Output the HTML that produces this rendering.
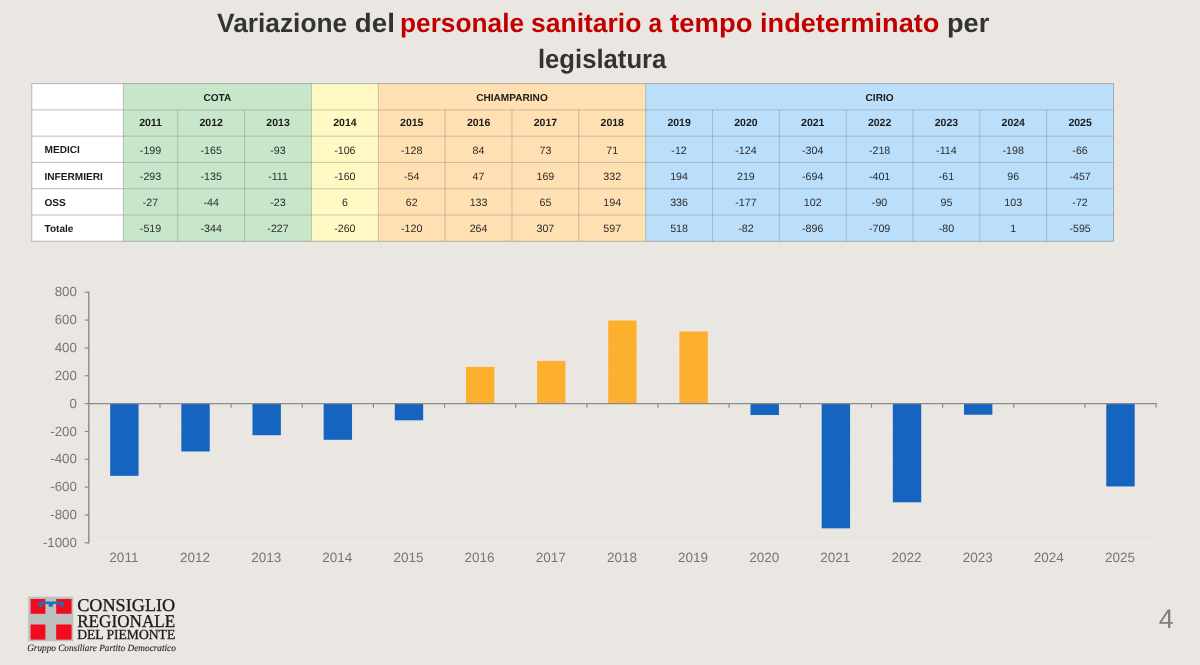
<!DOCTYPE html>
<html lang="it"><head><meta charset="utf-8"><title>Variazione del personale sanitario</title>
<style>html,body{margin:0;padding:0;background:#EAE7E3;}body{width:1200px;height:665px;overflow:hidden;font-family:"Liberation Sans",sans-serif;}svg{display:block;filter:blur(0.45px);}text{font-family:"Liberation Sans",sans-serif;text-rendering:geometricPrecision;}.serif{font-family:"Liberation Serif",serif;}</style></head><body>
<svg width="1200" height="665" viewBox="0 0 1200 665">
<rect x="0" y="0" width="1200" height="665" fill="#EAE7E3"/>
<g font-weight="bold" font-size="26.6" fill="#333333">
<text x="217.10" y="32.3" textLength="130.07" lengthAdjust="spacingAndGlyphs">Variazione</text>
<text x="354.81" y="32.3" textLength="40.09" lengthAdjust="spacingAndGlyphs">del</text>
<text x="400.03" y="32.3" textLength="124.04" lengthAdjust="spacingAndGlyphs" fill="#C00000">personale</text>
<text x="531.10" y="32.3" textLength="110.28" lengthAdjust="spacingAndGlyphs" fill="#C00000">sanitario</text>
<text x="648.60" y="32.3" textLength="13.60" lengthAdjust="spacingAndGlyphs" fill="#C00000">a</text>
<text x="670.13" y="32.3" textLength="82.28" lengthAdjust="spacingAndGlyphs" fill="#C00000">tempo</text>
<text x="760.09" y="32.3" textLength="179.24" lengthAdjust="spacingAndGlyphs" fill="#C00000">indeterminato</text>
<text x="947.06" y="32.3" textLength="42.24" lengthAdjust="spacingAndGlyphs">per</text>
<text x="537.90" y="68.3" textLength="128.50" lengthAdjust="spacingAndGlyphs">legislatura</text>
</g>
<rect x="31.80" y="83.60" width="91.50" height="157.68" fill="#FFFFFF"/>
<rect x="123.30" y="83.60" width="188.17" height="157.68" fill="#C8E6C9"/>
<rect x="311.47" y="83.60" width="66.84" height="157.68" fill="#FFF9C4"/>
<rect x="378.31" y="83.60" width="267.34" height="157.68" fill="#FFE0B2"/>
<rect x="645.65" y="83.60" width="467.85" height="157.68" fill="#BBDEFB"/>
<g stroke="rgba(120,120,120,0.38)" stroke-width="1" fill="none">
<line x1="123.30" y1="109.88" x2="1113.50" y2="109.88"/>
<line x1="123.30" y1="136.16" x2="1113.50" y2="136.16"/>
<line x1="123.30" y1="162.44" x2="1113.50" y2="162.44"/>
<line x1="123.30" y1="188.72" x2="1113.50" y2="188.72"/>
<line x1="123.30" y1="215.00" x2="1113.50" y2="215.00"/>
<line x1="123.30" y1="83.60" x2="123.30" y2="241.28"/>
<line x1="177.80" y1="109.88" x2="177.80" y2="241.28"/>
<line x1="244.64" y1="109.88" x2="244.64" y2="241.28"/>
<line x1="311.47" y1="83.60" x2="311.47" y2="241.28"/>
<line x1="378.31" y1="83.60" x2="378.31" y2="241.28"/>
<line x1="445.14" y1="109.88" x2="445.14" y2="241.28"/>
<line x1="511.98" y1="109.88" x2="511.98" y2="241.28"/>
<line x1="578.81" y1="109.88" x2="578.81" y2="241.28"/>
<line x1="645.65" y1="83.60" x2="645.65" y2="241.28"/>
<line x1="712.49" y1="109.88" x2="712.49" y2="241.28"/>
<line x1="779.32" y1="109.88" x2="779.32" y2="241.28"/>
<line x1="846.16" y1="109.88" x2="846.16" y2="241.28"/>
<line x1="912.99" y1="109.88" x2="912.99" y2="241.28"/>
<line x1="979.83" y1="109.88" x2="979.83" y2="241.28"/>
<line x1="1046.66" y1="109.88" x2="1046.66" y2="241.28"/>
</g>
<g stroke="rgba(120,120,120,0.5)" stroke-width="1" fill="none">
<line x1="31.80" y1="109.88" x2="123.30" y2="109.88"/>
<line x1="31.80" y1="136.16" x2="123.30" y2="136.16"/>
<line x1="31.80" y1="162.44" x2="123.30" y2="162.44"/>
<line x1="31.80" y1="188.72" x2="123.30" y2="188.72"/>
<line x1="31.80" y1="215.00" x2="123.30" y2="215.00"/>
<rect x="31.80" y="83.60" width="1081.70" height="157.68"/>
</g>
<g text-anchor="middle">
<g font-weight="bold" fill="#1a1a1a" font-size="10.1">
<text x="217.39" y="100.59">COTA</text>
<text x="511.98" y="100.59">CHIAMPARINO</text>
<text x="879.58" y="100.59">CIRIO</text>
<g font-size="10.5">
<text x="150.55" y="126.32">2011</text>
<text x="211.22" y="126.32">2012</text>
<text x="278.05" y="126.32">2013</text>
<text x="344.89" y="126.32">2014</text>
<text x="411.73" y="126.32">2015</text>
<text x="478.56" y="126.32">2016</text>
<text x="545.40" y="126.32">2017</text>
<text x="612.23" y="126.32">2018</text>
<text x="679.07" y="126.32">2019</text>
<text x="745.90" y="126.32">2020</text>
<text x="812.74" y="126.32">2021</text>
<text x="879.58" y="126.32">2022</text>
<text x="946.41" y="126.32">2023</text>
<text x="1013.25" y="126.32">2024</text>
<text x="1080.08" y="126.32">2025</text>
</g>
<text x="44.5" y="153.30" text-anchor="start">MEDICI</text>
<text x="44.5" y="179.58" text-anchor="start">INFERMIERI</text>
<text x="44.5" y="205.86" text-anchor="start">OSS</text>
<text x="44.5" y="232.14" text-anchor="start">Totale</text>
</g>
<g fill="#2b2b2b" font-size="10.7">
<text x="150.55" y="153.60">-199</text>
<text x="211.22" y="153.60">-165</text>
<text x="278.05" y="153.60">-93</text>
<text x="344.89" y="153.60">-106</text>
<text x="411.73" y="153.60">-128</text>
<text x="478.56" y="153.60">84</text>
<text x="545.40" y="153.60">73</text>
<text x="612.23" y="153.60">71</text>
<text x="679.07" y="153.60">-12</text>
<text x="745.90" y="153.60">-124</text>
<text x="812.74" y="153.60">-304</text>
<text x="879.58" y="153.60">-218</text>
<text x="946.41" y="153.60">-114</text>
<text x="1013.25" y="153.60">-198</text>
<text x="1080.08" y="153.60">-66</text>
<text x="150.55" y="179.88">-293</text>
<text x="211.22" y="179.88">-135</text>
<text x="278.05" y="179.88">-111</text>
<text x="344.89" y="179.88">-160</text>
<text x="411.73" y="179.88">-54</text>
<text x="478.56" y="179.88">47</text>
<text x="545.40" y="179.88">169</text>
<text x="612.23" y="179.88">332</text>
<text x="679.07" y="179.88">194</text>
<text x="745.90" y="179.88">219</text>
<text x="812.74" y="179.88">-694</text>
<text x="879.58" y="179.88">-401</text>
<text x="946.41" y="179.88">-61</text>
<text x="1013.25" y="179.88">96</text>
<text x="1080.08" y="179.88">-457</text>
<text x="150.55" y="206.16">-27</text>
<text x="211.22" y="206.16">-44</text>
<text x="278.05" y="206.16">-23</text>
<text x="344.89" y="206.16">6</text>
<text x="411.73" y="206.16">62</text>
<text x="478.56" y="206.16">133</text>
<text x="545.40" y="206.16">65</text>
<text x="612.23" y="206.16">194</text>
<text x="679.07" y="206.16">336</text>
<text x="745.90" y="206.16">-177</text>
<text x="812.74" y="206.16">102</text>
<text x="879.58" y="206.16">-90</text>
<text x="946.41" y="206.16">95</text>
<text x="1013.25" y="206.16">103</text>
<text x="1080.08" y="206.16">-72</text>
<text x="150.55" y="232.44">-519</text>
<text x="211.22" y="232.44">-344</text>
<text x="278.05" y="232.44">-227</text>
<text x="344.89" y="232.44">-260</text>
<text x="411.73" y="232.44">-120</text>
<text x="478.56" y="232.44">264</text>
<text x="545.40" y="232.44">307</text>
<text x="612.23" y="232.44">597</text>
<text x="679.07" y="232.44">518</text>
<text x="745.90" y="232.44">-82</text>
<text x="812.74" y="232.44">-896</text>
<text x="879.58" y="232.44">-709</text>
<text x="946.41" y="232.44">-80</text>
<text x="1013.25" y="232.44">1</text>
<text x="1080.08" y="232.44">-595</text>
</g></g>
<g stroke="#EEECE9" stroke-width="1">
<line x1="88.80" y1="542.82" x2="1156.05" y2="542.82"/>
<line x1="88.80" y1="514.98" x2="1156.05" y2="514.98"/>
<line x1="88.80" y1="487.13" x2="1156.05" y2="487.13"/>
<line x1="88.80" y1="459.29" x2="1156.05" y2="459.29"/>
<line x1="88.80" y1="431.44" x2="1156.05" y2="431.44"/>
<line x1="88.80" y1="375.76" x2="1156.05" y2="375.76"/>
<line x1="88.80" y1="347.91" x2="1156.05" y2="347.91"/>
<line x1="88.80" y1="320.07" x2="1156.05" y2="320.07"/>
<line x1="88.80" y1="292.22" x2="1156.05" y2="292.22"/>
</g>
<rect x="110.17" y="403.60" width="28.40" height="72.26" fill="#1565C0"/>
<rect x="181.33" y="403.60" width="28.40" height="47.89" fill="#1565C0"/>
<rect x="252.48" y="403.60" width="28.40" height="31.60" fill="#1565C0"/>
<rect x="323.63" y="403.60" width="28.40" height="36.20" fill="#1565C0"/>
<rect x="394.78" y="403.60" width="28.40" height="16.71" fill="#1565C0"/>
<rect x="465.93" y="366.85" width="28.40" height="36.75" fill="#FDB02D"/>
<rect x="537.07" y="360.86" width="28.40" height="42.74" fill="#FDB02D"/>
<rect x="608.22" y="320.48" width="28.40" height="83.12" fill="#FDB02D"/>
<rect x="679.38" y="331.48" width="28.40" height="72.12" fill="#FDB02D"/>
<rect x="750.52" y="403.60" width="28.40" height="11.42" fill="#1565C0"/>
<rect x="821.67" y="403.60" width="28.40" height="124.74" fill="#1565C0"/>
<rect x="892.82" y="403.60" width="28.40" height="98.71" fill="#1565C0"/>
<rect x="963.98" y="403.60" width="28.40" height="11.14" fill="#1565C0"/>
<rect x="1035.12" y="403.46" width="28.40" height="0.14" fill="#1565C0"/>
<rect x="1106.28" y="403.60" width="28.40" height="82.84" fill="#1565C0"/>
<g stroke="#8a8a8a" stroke-width="1.4" fill="none">
<line x1="88.80" y1="291.52" x2="88.80" y2="543.52"/>
<line x1="88.10" y1="403.60" x2="1156.75" y2="403.60"/>
</g><g stroke="#8a8a8a" stroke-width="1.2" fill="none">
<line x1="84.80" y1="542.82" x2="88.80" y2="542.82"/>
<line x1="84.80" y1="514.98" x2="88.80" y2="514.98"/>
<line x1="84.80" y1="487.13" x2="88.80" y2="487.13"/>
<line x1="84.80" y1="459.29" x2="88.80" y2="459.29"/>
<line x1="84.80" y1="431.44" x2="88.80" y2="431.44"/>
<line x1="84.80" y1="403.60" x2="88.80" y2="403.60"/>
<line x1="84.80" y1="375.76" x2="88.80" y2="375.76"/>
<line x1="84.80" y1="347.91" x2="88.80" y2="347.91"/>
<line x1="84.80" y1="320.07" x2="88.80" y2="320.07"/>
<line x1="84.80" y1="292.22" x2="88.80" y2="292.22"/>
<line x1="159.95" y1="403.60" x2="159.95" y2="407.80"/>
<line x1="231.10" y1="403.60" x2="231.10" y2="407.80"/>
<line x1="302.25" y1="403.60" x2="302.25" y2="407.80"/>
<line x1="373.40" y1="403.60" x2="373.40" y2="407.80"/>
<line x1="444.55" y1="403.60" x2="444.55" y2="407.80"/>
<line x1="515.70" y1="403.60" x2="515.70" y2="407.80"/>
<line x1="586.85" y1="403.60" x2="586.85" y2="407.80"/>
<line x1="658.00" y1="403.60" x2="658.00" y2="407.80"/>
<line x1="729.15" y1="403.60" x2="729.15" y2="407.80"/>
<line x1="800.30" y1="403.60" x2="800.30" y2="407.80"/>
<line x1="871.45" y1="403.60" x2="871.45" y2="407.80"/>
<line x1="942.60" y1="403.60" x2="942.60" y2="407.80"/>
<line x1="1013.75" y1="403.60" x2="1013.75" y2="407.80"/>
<line x1="1084.90" y1="403.60" x2="1084.90" y2="407.80"/>
<line x1="1156.05" y1="403.60" x2="1156.05" y2="407.80"/>
</g>
<g font-size="13.3" fill="#767676">
<g text-anchor="end">
<text x="76.9" y="546.92">-1000</text>
<text x="76.9" y="519.08">-800</text>
<text x="76.9" y="491.23">-600</text>
<text x="76.9" y="463.39">-400</text>
<text x="76.9" y="435.54">-200</text>
<text x="76.9" y="407.70">0</text>
<text x="76.9" y="379.86">200</text>
<text x="76.9" y="352.01">400</text>
<text x="76.9" y="324.17">600</text>
<text x="76.9" y="296.32">800</text>
</g><g text-anchor="middle" font-size="13.5">
<text x="123.88" y="562.3">2011</text>
<text x="195.03" y="562.3">2012</text>
<text x="266.18" y="562.3">2013</text>
<text x="337.33" y="562.3">2014</text>
<text x="408.48" y="562.3">2015</text>
<text x="479.63" y="562.3">2016</text>
<text x="550.77" y="562.3">2017</text>
<text x="621.92" y="562.3">2018</text>
<text x="693.08" y="562.3">2019</text>
<text x="764.23" y="562.3">2020</text>
<text x="835.38" y="562.3">2021</text>
<text x="906.52" y="562.3">2022</text>
<text x="977.68" y="562.3">2023</text>
<text x="1048.83" y="562.3">2024</text>
<text x="1119.98" y="562.3">2025</text>
</g></g>
<rect x="28.2" y="596.7" width="45.1" height="44.6" fill="#BEBFBF"/>
<rect x="30.60" y="599.00" width="14.80" height="14.80" fill="#F20A1E"/>
<rect x="56.20" y="599.00" width="15.40" height="14.80" fill="#F20A1E"/>
<rect x="30.60" y="624.50" width="14.80" height="15.10" fill="#F20A1E"/>
<rect x="56.20" y="624.50" width="15.40" height="15.10" fill="#F20A1E"/>
<path d="M41.6 605.9 Q39.2 606.2 39.6 603.9 Q40 602.7 42 602.8 L60.4 602.8 Q62.4 602.7 62.8 603.9 Q63.2 606.2 60.8 605.9" stroke="#1973B9" stroke-width="2.4" fill="none" stroke-linecap="round" stroke-linejoin="round"/>
<rect x="48.6" y="602" width="4.5" height="4.8" rx="1.2" fill="#1973B9"/>
<g class="serif" fill="#1c1c1c" stroke="#1c1c1c" stroke-width="0.32">
<text class="serif" x="77.2" y="611.2" font-size="18.0" textLength="98" lengthAdjust="spacingAndGlyphs">CONSIGLIO</text>
<text class="serif" x="77.2" y="626.8" font-size="18.0" textLength="98" lengthAdjust="spacingAndGlyphs">REGIONALE</text>
<text class="serif" x="77.2" y="639.4" font-size="13.9" textLength="98" lengthAdjust="spacingAndGlyphs">DEL PIEMONTE</text>
<text class="serif" x="27.2" y="651.2" font-size="9.6" font-style="italic" fill="#262626" stroke="#262626" stroke-width="0.12" textLength="148.6" lengthAdjust="spacingAndGlyphs">Gruppo Consiliare Partito Democratico</text>
</g>
<text x="1166.3" y="628.0" font-size="26.8" fill="#7f7f7f" text-anchor="middle">4</text>
</svg></body></html>
